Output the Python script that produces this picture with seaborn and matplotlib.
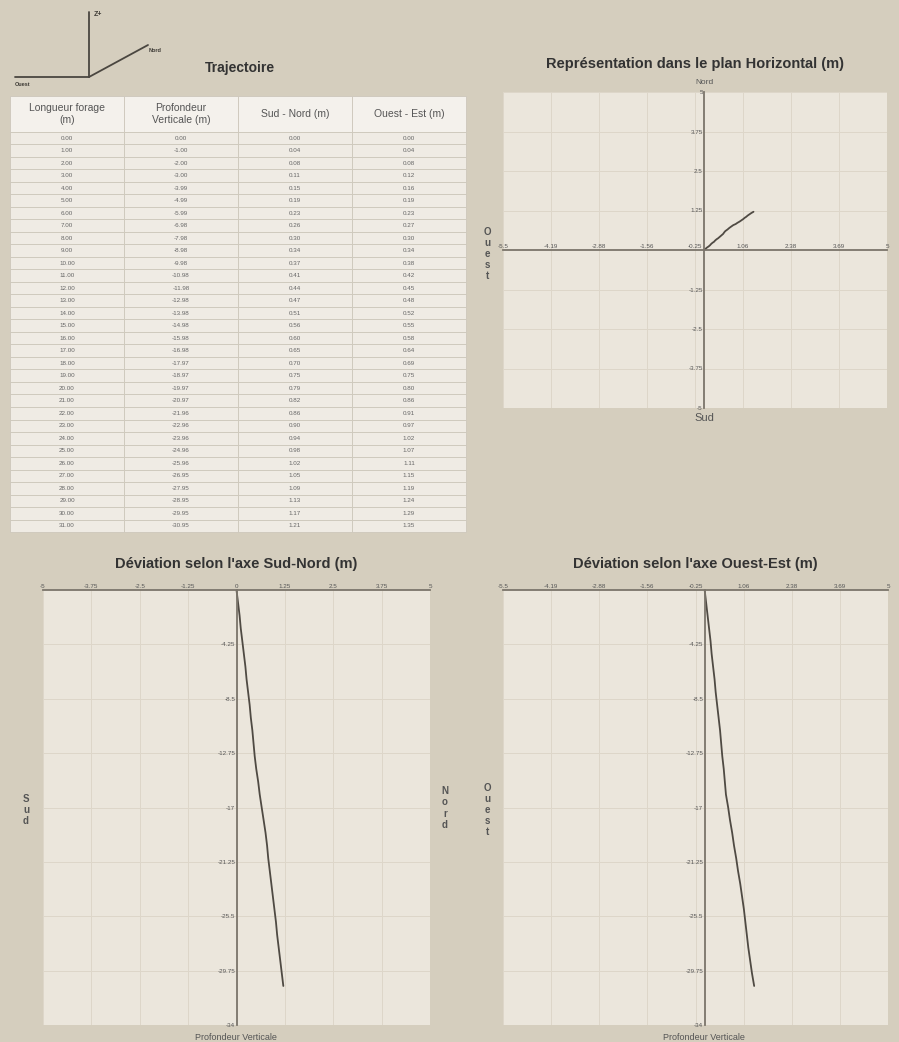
import matplotlib
matplotlib.use("Agg")
import matplotlib.pyplot as plt
import seaborn as sns
import pandas as pd

longueur = [0.00, 1.00, 2.00, 3.00, 4.00, 5.00, 6.00, 7.00, 8.00, 9.00,
            10.00, 11.00, 12.00, 13.00, 14.00, 15.00, 16.00, 17.00, 18.00, 19.00,
            20.00, 21.00, 22.00, 23.00, 24.00, 25.00, 26.00, 27.00, 28.00, 29.00,
            30.00, 31.00]
profondeur = [0.00, -1.00, -2.00, -3.00, -3.99, -4.99, -5.99, -6.98, -7.98, -8.98,
              -9.98, -10.98, -11.98, -12.98, -13.98, -14.98, -15.98, -16.98, -17.97, -18.97,
              -19.97, -20.97, -21.96, -22.96, -23.96, -24.96, -25.96, -26.95, -27.95, -28.95,
              -29.95, -30.95]
sud_nord = [0.00, 0.04, 0.08, 0.11, 0.15, 0.19, 0.23, 0.26, 0.30, 0.34,
            0.37, 0.41, 0.44, 0.47, 0.51, 0.56, 0.60, 0.65, 0.70, 0.75,
            0.79, 0.82, 0.86, 0.90, 0.94, 0.98, 1.02, 1.05, 1.09, 1.13,
            1.17, 1.21]
ouest_est = [0.00, 0.04, 0.08, 0.12, 0.16, 0.19, 0.23, 0.27, 0.30, 0.34,
             0.38, 0.42, 0.45, 0.48, 0.52, 0.55, 0.58, 0.64, 0.69, 0.75,
             0.80, 0.86, 0.91, 0.97, 1.02, 1.07, 1.11, 1.15, 1.19, 1.24,
             1.29, 1.35]

col_labels = ["Longueur forage\n(m)", "Profondeur\nVerticale (m)",
              "Sud - Nord (m)", "Ouest - Est (m)"]

# tick values / labels
oe_ticks = [-5.5, -4.1875, -2.875, -1.5625, -0.25, 1.0625, 2.375, 3.6875, 5]
oe_labels = ["-5.5", "-4.19", "-2.88", "-1.56", "-0.25", "1.06", "2.38", "3.69", "5"]
sn_ticks = [-5, -3.75, -2.5, -1.25, 0, 1.25, 2.5, 3.75, 5]
sn_labels = ["-5", "-3.75", "-2.5", "-1.25", "0", "1.25", "2.5", "3.75", "5"]
h_yticks = [5, 3.75, 2.5, 1.25, -1.25, -2.5, -3.75, -5]
h_ylabels = ["5", "3.75", "2.5", "1.25", "-1.25", "-2.5", "-3.75", "-5"]
z_ticks = [-4.25, -8.5, -12.75, -17, -21.25, -25.5, -29.75, -34]
z_labels = ["-4.25", "-8.5", "-12.75", "-17", "-21.25", "-25.5", "-29.75", "-34"]

df = pd.DataFrame({"longueur": longueur, "prof": profondeur,
                   "sn": sud_nord, "oe": ouest_est})

sns.set_style("white")
plt.rcParams["font.family"] = ["Liberation Sans", "DejaVu Sans"]

BG = "#d5cebe"
PLOT_BG = "#ebe6dc"
GRID = "#ddd6c9"
AXIS_C = "#7b756b"
LINE_C = "#4f4a43"
TXT = "#333333"
TICK_C = "#555555"

W, H = 899, 1042
fig = plt.figure(figsize=(W / 100, H / 100), dpi=100, facecolor=BG)


def px_axes(x, y, w, h):
    return fig.add_axes([x / W, 1 - (y + h) / H, w / W, h / H])


def style_plot(ax, xlim, ylim, xticks, xlabels, yticks, ylabels):
    ax.set_facecolor(PLOT_BG)
    ax.set_xlim(xlim)
    ax.set_ylim(ylim)
    ax.spines["right"].set_visible(False)
    ax.spines["bottom"].set_visible(False)
    ax.spines["top"].set_position(("data", 0))
    ax.spines["left"].set_position(("data", 0))
    for s in ["top", "left"]:
        ax.spines[s].set_color(AXIS_C)
        ax.spines[s].set_linewidth(1.3)
    ax.xaxis.set_ticks_position("top")
    ax.set_xticks(xticks, xlabels)
    ax.set_yticks(yticks, ylabels)
    ax.tick_params(length=0, labelsize=4.5, colors=TICK_C, pad=1)
    ax.grid(True, color=GRID, lw=0.7)
    ax.set_xlabel("")
    ax.set_ylabel("")


# ---- horizontal plane ----
ax_h = px_axes(503, 92, 384, 316)
sns.lineplot(data=df, x="oe", y="sn", sort=False, estimator=None,
             color=LINE_C, lw=1.3, ax=ax_h)
style_plot(ax_h, (-5.5, 5), (-5, 5), oe_ticks, oe_labels, h_yticks, h_ylabels)
ax_h.set_title("Représentation dans le plan Horizontal (m)", fontsize=10.5,
               fontweight="bold", color=TXT, pad=17)
fig.text(704 / W, 1 - 83 / H, "Nord", ha="center", va="center", fontsize=6, color=TICK_C)
fig.text(704 / W, 1 - 418 / H, "Sud", ha="center", va="center", fontsize=8, color=TICK_C)
fig.text(487 / W, 1 - 254 / H, "O\nu\ne\ns\nt", ha="center", va="center",
         fontsize=7, color=TICK_C, fontweight="bold", linespacing=1.15)

# ---- Sud-Nord deviation ----
ax_sn = px_axes(43, 590, 387, 435)
sns.lineplot(data=df, x="sn", y="prof", sort=False, estimator=None,
             color=LINE_C, lw=1.3, ax=ax_sn)
style_plot(ax_sn, (-5, 5), (-34, 0), sn_ticks, sn_labels, z_ticks, z_labels)
ax_sn.set_title("Déviation selon l'axe Sud-Nord (m)", fontsize=10.5,
                fontweight="bold", color=TXT, pad=16)
fig.text(236 / W, 1 - 1037 / H, "Profondeur Verticale", ha="center", va="center",
         fontsize=6.5, color=TICK_C)
fig.text(26 / W, 1 - 810 / H, "S\nu\nd", ha="center", va="center",
         fontsize=7, color=TICK_C, fontweight="bold", linespacing=1.15)
fig.text(445 / W, 1 - 808 / H, "N\no\nr\nd", ha="center", va="center",
         fontsize=7, color=TICK_C, fontweight="bold", linespacing=1.15)

# ---- Ouest-Est deviation ----
ax_oe = px_axes(503, 590, 385, 435)
sns.lineplot(data=df, x="oe", y="prof", sort=False, estimator=None,
             color=LINE_C, lw=1.3, ax=ax_oe)
style_plot(ax_oe, (-5.5, 5), (-34, 0), oe_ticks, oe_labels, z_ticks, z_labels)
ax_oe.set_title("Déviation selon l'axe Ouest-Est (m)", fontsize=10.5,
                fontweight="bold", color=TXT, pad=16)
fig.text(704 / W, 1 - 1037 / H, "Profondeur Verticale", ha="center", va="center",
         fontsize=6.5, color=TICK_C)
fig.text(487 / W, 1 - 810 / H, "O\nu\ne\ns\nt", ha="center", va="center",
         fontsize=7, color=TICK_C, fontweight="bold", linespacing=1.15)

# ---- table ----
ax_t = px_axes(10, 96, 456, 436)
ax_t.axis("off")
rows = [[f"{a:.2f}", f"{b:.2f}", f"{c:.2f}", f"{d:.2f}"]
        for a, b, c, d in zip(longueur, profondeur, sud_nord, ouest_est)]
tbl = ax_t.table(cellText=rows, colLabels=col_labels, cellLoc="center",
                 bbox=[0, 0, 1, 1])
tbl.auto_set_font_size(False)
for (r, c), cell in tbl.get_celld().items():
    cell.set_edgecolor("#cdc7bb")
    cell.set_linewidth(0.6)
    if r == 0:
        cell.set_height(36)
        cell.set_facecolor("#f4f1ec")
        cell.get_text().set_fontsize(7.5)
        cell.get_text().set_color("#555555")
    else:
        cell.set_height(12.5)
        cell.set_facecolor("#efebe4")
        cell.get_text().set_fontsize(4.5)
        cell.get_text().set_color("#666666")

# ---- orientation glyph + "Trajectoire" ----
ov = fig.add_axes([0, 0, 1, 1], facecolor="none")
ov.set_xlim(0, W)
ov.set_ylim(H, 0)
ov.axis("off")
ov.plot([89, 89], [12, 77], color="#4a4640", lw=1.3)
ov.plot([15, 89], [77, 77], color="#4a4640", lw=1.3)
ov.plot([89, 148], [77, 45], color="#4a4640", lw=1.3)
ov.text(94, 15, "Z+", fontsize=5, fontweight="bold", color="#3d3a35", va="center")
ov.text(149, 51, "Nord", fontsize=4, fontweight="bold", color="#3d3a35", va="center")
ov.text(15, 85, "Ouest", fontsize=4, fontweight="bold", color="#3d3a35", va="center")
ov.text(240, 68, "Trajectoire", fontsize=10, fontweight="bold", color=TXT,
        ha="center", va="center")

fig.savefig("out.png", dpi=100, facecolor=BG)
